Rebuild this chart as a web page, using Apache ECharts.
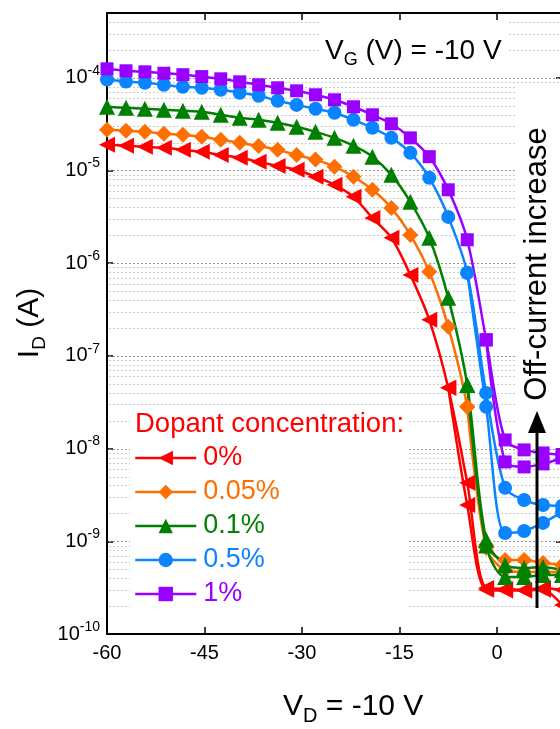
<!DOCTYPE html>
<html><head><meta charset="utf-8">
<script src="https://cdn.jsdelivr.net/npm/echarts@6/dist/echarts.min.js"></script>
<style>html,body{margin:0;padding:0;background:#fff}#c{width:560px;height:729px}</style>
</head><body><div id="c"></div>
<script>
// Drain voltage sweep points (V)
const vd = [-60, -57.08, -54.17, -51.25, -48.33, -45.42, -42.5, -39.58, -36.67, -33.75, -30.83, -27.92, -25,
  -22.08, -19.17, -16.25, -13.33, -10.42, -7.5, -4.58, -1.67, 1.25, 4.17, 7.08, 10];
const xTicks = [-60, -45, -30, -15, 0];

const seriesNames = ['0%', '0.05%', '0.1%', '0.5%', '1%'];
const seriesColors = ['#ff0000', '#ff6e00', '#008000', '#0b84ff', '#9900ff'];

// Drain current (A), forward sweep
const id0Fwd = [1.89e-5, 1.85e-5, 1.80e-5, 1.76e-5, 1.67e-5, 1.59e-5, 1.47e-5, 1.37e-5, 1.24e-5, 1.12e-5, 1.02e-5, 8.55e-6, 7.0e-6,
  5.2e-6, 3.08e-6, 1.88e-6, 7.48e-7, 2.45e-7, 4.52e-8, 4.27e-9, 3.14e-10, 3.06e-10, 2.99e-10, 3.14e-10, 2.99e-10];
const id005Fwd = [2.75e-5, 2.68e-5, 2.61e-5, 2.49e-5, 2.43e-5, 2.31e-5, 2.14e-5, 1.99e-5, 1.84e-5, 1.67e-5, 1.47e-5, 1.31e-5, 1.10e-5,
  8.55e-6, 6.19e-6, 3.95e-6, 2.02e-6, 8.07e-7, 2.06e-7, 2.82e-8, 9.14e-10, 6.3e-10, 6.3e-10, 5.84e-10, 5.56e-10];
const id01Fwd = [4.87e-5, 4.74e-5, 4.63e-5, 4.52e-5, 4.41e-5, 4.3e-5, 3.99e-5, 3.7e-5, 3.52e-5, 3.27e-5, 2.96e-5, 2.61e-5, 2.25e-5,
  1.85e-5, 1.41e-5, 8.98e-6, 4.59e-6, 1.88e-6, 4.23e-7, 4.86e-8, 1.04e-9, 5.56e-10, 5.16e-10, 5.28e-10, 4.9e-10];
const id05Fwd = [9.6e-5, 9.1e-5, 8.83e-5, 8.4e-5, 8.0e-5, 7.8e-5, 7.43e-5, 6.9e-5, 6.4e-5, 5.65e-5, 5.1e-5, 4.63e-5, 4.19e-5,
  3.52e-5, 2.89e-5, 2.25e-5, 1.55e-5, 8.34e-6, 3.16e-6, 7.87e-7, 3.99e-8, 3.77e-9, 2.79e-9, 2.46e-9, 2.41e-9];
const id1Fwd = [1.25e-4, 1.19e-4, 1.16e-4, 1.12e-4, 1.08e-4, 1.03e-4, 9.75e-5, 9.05e-5, 8.4e-5, 7.8e-5, 7.24e-5, 6.56e-5, 5.79e-5,
  4.87e-5, 3.99e-5, 3.19e-5, 2.25e-5, 1.41e-5, 6.19e-6, 1.79e-6, 1.49e-7, 1.24e-8, 9.68e-9, 8.98e-9, 8.55e-9];

// Drain current (A), reverse sweep (only where it departs from the forward sweep)
const id0Rev = [null, null, null, null, null, null, null, null, null, null, null, null, null,
  null, null, null, null, null, 4.52e-8, 2.46e-9, 3.0e-10, 2.95e-10, 2.95e-10, 3.0e-10, 2.06e-10];
const id005Rev = [null, null, null, null, null, null, null, null, null, null, null, null, null,
  null, null, null, null, null, null, 2.82e-8, 8.5e-10, 4.9e-10, 4.67e-10, 4.67e-10, 4.67e-10];
const id01Rev = [null, null, null, null, null, null, null, null, null, null, null, null, null,
  null, null, null, null, null, null, 4.86e-8, 9.0e-10, 4.12e-10, 4.12e-10, 4.33e-10, 4.33e-10];
const id05Rev = [null, null, null, null, null, null, null, null, null, null, null, null, null,
  null, null, null, null, null, null, 7.87e-7, 2.82e-8, 1.23e-9, 1.29e-9, 1.58e-9, 2.07e-9];
const id1Rev = [null, null, null, null, null, null, null, null, null, null, null, null, null,
  null, null, null, null, null, null, null, 1.49e-7, 7.18e-9, 6.34e-9, 6.84e-9, 7.93e-9];

const fwdSets = [id0Fwd, id005Fwd, id01Fwd, id05Fwd, id1Fwd];
const revSets = [id0Rev, id005Rev, id01Rev, id05Rev, id1Rev];
const symbols = ['triangle', 'diamond', 'triangle', 'circle', 'rect'];
const symbolSizes = [16, 16, 16, 14, 13];
const symbolRots = [90, 0, 0, 0, 0];

// grid line levels (A)
const decadeExps = [-10, -9, -8, -7, -6, -5, -4];
const mantissas = [1, 2, 3, 4, 5, 6, 7, 8, 9];

const X_MIN = -60, X_MAX = 10;
const FONT = 'Liberation Sans, Arial, sans-serif';
const chart = echarts.init(document.getElementById('c'), null, {renderer: 'canvas'});

const gridLevels = [];
decadeExps.forEach(e => mantissas.forEach(m => {
  const v = m * Math.pow(10, e);
  if (v < 4.9e-4) gridLevels.push([X_MIN, v, m === 1 ? 1 : 0]);
}));

function toPairs(ys) {
  const out = [];
  ys.forEach((y, i) => { if (y != null) out.push([vd[i], y]); });
  return out;
}

const series = [{
  type: 'custom', name: 'grid', z: 1, silent: true, clip: true,
  encode: {x: 0, y: 1},
  data: gridLevels,
  renderItem: function (params, api) {
    const v = api.value(1);
    const p1 = api.coord([X_MIN, v]);
    const p2 = api.coord([X_MAX, v]);
    const major = api.value(2) === 1;
    return {
      type: 'line', silent: true,
      shape: {x1: p1[0] + 2, y1: Math.round(p1[1]) + 0.5, x2: p2[0], y2: Math.round(p2[1]) + 0.5},
      style: {stroke: major ? '#999999' : '#cccccc', lineWidth: 1, lineDash: [2, 2]}
    };
  }
}];

seriesNames.forEach((name, k) => {
  [fwdSets[k], revSets[k]].forEach(ys => {
    series.push({
      type: 'line', name, z: 3,
      data: toPairs(ys),
      smooth: 0.3,
      symbol: symbols[k], symbolSize: symbolSizes[k], symbolRotate: symbolRots[k],
      itemStyle: {color: seriesColors[k]},
      lineStyle: {color: seriesColors[k], width: 2.5},
      emphasis: {disabled: true}
    });
  });
});

const axisCommonX = {
  type: 'value', min: X_MIN, max: X_MAX, interval: 15,
  axisLine: {show: true, onZero: false, lineStyle: {color: '#000', width: 2}},
  axisTick: {show: true, inside: true, length: 7, lineStyle: {color: '#000', width: 1.5}},
  splitLine: {show: false}
};
const axisCommonY = {
  type: 'log', logBase: 10, min: 1e-10, max: 5e-4,
  axisLine: {show: true, onZero: false, lineStyle: {color: '#000', width: 2}},
  axisTick: {show: true, inside: true, length: 6, lineStyle: {color: '#000', width: 1.5}},
  splitLine: {show: false}, minorTick: {show: false}
};

function yFmt(v) {
  const lg = Math.log10(v);
  const e = Math.round(lg);
  if (Math.abs(lg - e) > 1e-6) return '';
  return '{b|10}{s|' + e + '}';
}

const option = {
  animation: false,
  textStyle: {fontFamily: FONT},
  grid: {left: 107, right: -2, top: 13, bottom: 95, containLabel: false, outerBoundsMode: 'none'},
  xAxis: [
    Object.assign({}, axisCommonX, {
      position: 'bottom',
      axisLabel: {show: true, fontSize: 20, color: '#000', margin: 9, fontFamily: FONT,
        formatter: v => (xTicks.indexOf(v) >= 0 ? String(v) : '')}
    }),
    Object.assign({}, axisCommonX, {position: 'top', axisLabel: {show: false}})
  ],
  yAxis: [
    Object.assign({}, axisCommonY, {
      position: 'left',
      axisLabel: {show: true, color: '#000', margin: 7, formatter: yFmt, fontFamily: FONT,
        rich: {
          b: {fontSize: 20, lineHeight: 28, color: '#000', fontFamily: FONT},
          s: {fontSize: 14, lineHeight: 14, verticalAlign: 'top', color: '#000', fontFamily: FONT}
        }}
    }),
    Object.assign({}, axisCommonY, {position: 'right', axisLabel: {show: false}})
  ],
  legend: {
    show: true, orient: 'vertical', left: 134, top: 443, padding: 0,
    itemGap: 4, itemWidth: 61, itemHeight: 18, selectedMode: false,
    lineStyle: {width: 2.5},
    textStyle: {fontSize: 27, lineHeight: 30, fontFamily: FONT, padding: [0, 0, 0, 2]},
    data: seriesNames.map((n, k) => ({name: n, textStyle: {color: seriesColors[k]}}))
  },
  series,
  graphic: [
    // white boxes behind texts
    {type: 'rect', z: 2, silent: true, shape: {x: 320, y: 21, width: 187, height: 53}, style: {fill: '#fff'}},
    {type: 'rect', z: 2, silent: true, shape: {x: 517, y: 84, width: 50, height: 346}, style: {fill: '#fff'}},
    {type: 'rect', z: 2, silent: true, shape: {x: 130, y: 410, width: 278, height: 215}, style: {fill: '#fff'}},
    // V_G annotation
    {type: 'text', z: 10, x: 325, y: 51, silent: true,
      style: {text: '{m|V}{u|G}{m| (V) = -10 V}', align: 'left', verticalAlign: 'middle', fill: '#000',
        rich: {m: {fontSize: 28, lineHeight: 36, fontFamily: FONT, fill: '#000'},
               u: {fontSize: 18, lineHeight: 18, verticalAlign: 'bottom', fontFamily: FONT, fill: '#000'}}}},
    // x-axis title
    {type: 'text', z: 10, x: 283, y: 707, silent: true,
      style: {text: '{m|V}{u|D}{m| = -10 V}', align: 'left', verticalAlign: 'middle', fill: '#000',
        rich: {m: {fontSize: 30, lineHeight: 38, fontFamily: FONT, fill: '#000'},
               u: {fontSize: 20, lineHeight: 20, verticalAlign: 'bottom', fontFamily: FONT, fill: '#000'}}}},
    // y-axis title
    {type: 'text', z: 10, x: 30, y: 323, rotation: Math.PI / 2, silent: true,
      style: {text: '{m|I}{u|D}{m| (A)}', align: 'center', verticalAlign: 'middle', fill: '#000',
        rich: {m: {fontSize: 30, lineHeight: 38, fontFamily: FONT, fill: '#000'},
               u: {fontSize: 19, lineHeight: 19, verticalAlign: 'bottom', fontFamily: FONT, fill: '#000'}}}},
    // legend heading
    {type: 'text', z: 10, x: 135, y: 424, silent: true,
      style: {text: 'Dopant concentration:', fontSize: 27.5, fontFamily: FONT, fill: '#ff0000', align: 'left', verticalAlign: 'middle'}},
    // off-current annotation
    {type: 'text', z: 10, x: 537, y: 264, rotation: Math.PI / 2, silent: true,
      style: {text: 'Off-current increase', fontSize: 31, fontFamily: FONT, fill: '#000', align: 'center', verticalAlign: 'middle'}},
    {type: 'line', z: 10, silent: true, shape: {x1: 537, y1: 608, x2: 537, y2: 428}, style: {stroke: '#000', lineWidth: 3}},
    {type: 'polygon', z: 10, silent: true, shape: {points: [[537, 411], [528, 433], [546, 433]]}, style: {fill: '#000'}}
  ]
};
chart.setOption(option);
</script></body></html>
